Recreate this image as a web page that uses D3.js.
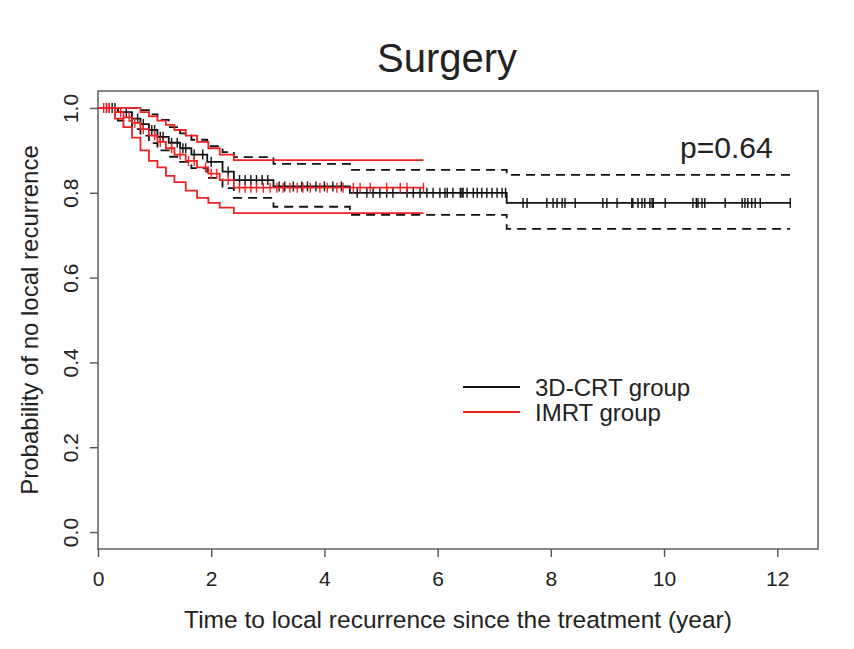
<!DOCTYPE html>
<html>
  <head>
    <meta charset="utf-8" />
    <title>Surgery</title>
    <script src="https://d3js.org/d3.v7.min.js"></script>
    <style>
      body { margin: 0; background: #fff; }
      text { font-family: "Liberation Sans", Arial, sans-serif; fill: #222; }
    </style>
  </head>
  <body>
    <svg width="854" height="649" id="km"></svg>

    <script>
      // 3D-CRT group: step times and survival / CI at each step
      var crtTime  = [0, 0.35, 0.6, 0.75, 0.9, 1.05, 1.25, 1.45, 1.65, 1.93, 2.2, 2.4, 3.1, 4.45, 7.22];
      var crtSurv  = [1.0, 0.99, 0.975, 0.962, 0.948, 0.932, 0.918, 0.905, 0.89, 0.873, 0.85, 0.83, 0.815, 0.80, 0.776];
      var crtUpper = [1.0, 1.0, 1.0, 0.995, 0.985, 0.972, 0.955, 0.94, 0.925, 0.91, 0.896, 0.884, 0.868, 0.854, 0.842];
      var crtLower = [1.0, 0.97, 0.95, 0.935, 0.917, 0.9, 0.885, 0.873, 0.858, 0.835, 0.811, 0.788, 0.767, 0.748, 0.715];
      var crtEnd = 12.23;
      var crtCensor = [0.15, 0.2, 0.25, 0.3, 0.5, 0.7, 0.8, 0.95, 1.0, 1.1, 1.15, 1.3, 1.4, 1.5, 1.55, 1.7, 1.85,
        2.0, 2.3, 2.5, 2.6, 2.7, 2.8, 2.9, 3.0, 3.2, 3.3, 3.45, 3.6, 3.7, 3.85, 4.0, 4.15, 4.3,
        4.58, 4.75, 4.86, 4.98, 5.1, 5.21, 5.46, 5.57, 5.69, 5.81, 5.92, 6.04, 6.13, 6.17, 6.27, 6.4,
        6.43, 6.45, 6.52, 6.63, 6.7, 6.78, 6.87, 6.96, 7.05, 7.14, 7.2, 7.51, 7.58, 7.93, 8.04, 8.11,
        8.2, 8.25, 8.43, 8.92, 8.99, 9.17, 9.43, 9.45, 9.54, 9.61, 9.66, 9.75, 9.79, 9.81, 10.02,
        10.51, 10.57, 10.6, 10.67, 10.72, 11.08, 11.38, 11.43, 11.48, 11.55, 11.61, 11.7, 12.23];

      // IMRT group
      var imrtTime  = [0, 0.3, 0.45, 0.6, 0.75, 0.9, 1.05, 1.2, 1.35, 1.55, 1.75, 1.95, 2.15, 2.4];
      var imrtSurv  = [1.0, 0.99, 0.978, 0.965, 0.95, 0.935, 0.92, 0.905, 0.89, 0.875, 0.86, 0.845, 0.83, 0.812];
      var imrtUpper = [1.0, 1.0, 1.0, 1.0, 0.99, 0.98, 0.97, 0.96, 0.948, 0.935, 0.92, 0.905, 0.89, 0.877];
      var imrtLower = [1.0, 0.975, 0.955, 0.93, 0.9, 0.875, 0.86, 0.84, 0.825, 0.805, 0.788, 0.776, 0.765, 0.752];
      var imrtEnd = 5.75;
      var imrtCensor = [0.1, 0.15, 0.2, 0.3, 0.4, 0.55, 0.65, 0.8, 1.0, 1.1, 1.3, 1.45, 1.6, 1.7, 1.9, 2.0,
        2.1, 2.3, 2.5, 2.6, 2.7, 2.8, 2.92, 3.04, 3.16, 3.27, 3.39, 3.52, 3.62, 3.75, 3.92, 4.05,
        4.22, 4.33, 4.51, 4.63, 4.81, 5.1, 5.34, 5.46, 5.75];

      var xTicks = [0, 2, 4, 6, 8, 10, 12];
      var yTicks = [0, 0.2, 0.4, 0.6, 0.8, 1.0];
      var groupNames = ["3D-CRT group", "IMRT group"];
      var groupColors = ["#111", "#ee2222"];

      var svg = d3.select("#km");

      var x = d3.scaleLinear().domain([0, 12.72]).range([98, 818]);
      var y = d3.scaleLinear().domain([-0.04, 1.04]).range([549, 91]);

      // plot box
      svg.append("rect")
        .attr("x", 98).attr("y", 91)
        .attr("width", 720).attr("height", 458)
        .attr("fill", "none").attr("stroke", "#555").attr("stroke-width", 1.4);

      // x axis
      var xAxis = svg.append("g")
        .attr("transform", "translate(0,549)")
        .call(d3.axisBottom(x).tickValues(xTicks).tickSize(8).tickPadding(14).tickFormat(d3.format("d")));
      xAxis.select(".domain").remove();
      xAxis.selectAll("line").attr("stroke", "#555").attr("stroke-width", 1.4);
      xAxis.selectAll("text").style("font-size", "21px").style("font-family", "Liberation Sans, Arial, sans-serif").attr("fill", "#222");

      // y axis, labels rotated like R
      var yAxis = svg.append("g")
        .attr("transform", "translate(98,0)")
        .call(d3.axisLeft(y).tickValues(yTicks).tickSize(8).tickFormat(d3.format(".1f")));
      yAxis.select(".domain").remove();
      yAxis.selectAll("line").attr("stroke", "#555").attr("stroke-width", 1.4);
      yAxis.selectAll("text")
        .attr("transform", "rotate(-90)")
        .attr("x", 0).attr("y", -20).attr("dy", 0)
        .style("text-anchor", "middle")
        .style("font-size", "21px").style("font-family", "Liberation Sans, Arial, sans-serif").attr("fill", "#222");

      // titles
      svg.append("text").attr("x", 447).attr("y", 72).attr("text-anchor", "middle")
        .style("font-size", "40px").text("Surgery");
      svg.append("text").attr("x", 458).attr("y", 628).attr("text-anchor", "middle")
        .style("font-size", "24.5px").text("Time to local recurrence since the treatment (year)");
      svg.append("text").attr("transform", "translate(38,320) rotate(-90)").attr("text-anchor", "middle")
        .style("font-size", "24px").text("Probability of no local recurrence");
      svg.append("text").attr("x", 680).attr("y", 158)
        .style("font-size", "30px").text("p=0.64");

      // step path helper
      function stepPoints(times, vals, end) {
        var pts = times.map(function(t, i) { return [t, vals[i]]; });
        pts.push([end, vals[vals.length - 1]]);
        return pts;
      }
      var line = d3.line()
        .x(function(d) { return x(d[0]); })
        .y(function(d) { return y(d[1]); })
        .curve(d3.curveStepAfter);

      function drawGroup(times, surv, upper, lower, end, censor, color, ciDash) {
        var g = svg.append("g");
        [upper, lower].forEach(function(ci) {
          g.append("path")
            .attr("d", line(stepPoints(times, ci, end)))
            .attr("fill", "none").attr("stroke", color).attr("stroke-width", 1.8)
            .attr("stroke-dasharray", ciDash);
        });
        g.append("path")
          .attr("d", line(stepPoints(times, surv, end)))
          .attr("fill", "none").attr("stroke", color).attr("stroke-width", 1.8);

        // censor marks
        var bis = d3.bisector(function(d) { return d; }).right;
        g.selectAll(".cens").data(censor).enter().append("line")
          .attr("x1", function(d) { return x(d); })
          .attr("x2", function(d) { return x(d); })
          .attr("y1", function(d) { return y(surv[bis(times, d) - 1]) - 5; })
          .attr("y2", function(d) { return y(surv[bis(times, d) - 1]) + 5; })
          .attr("stroke", color).attr("stroke-width", 1.4);
      }

      drawGroup(crtTime, crtSurv, crtUpper, crtLower, crtEnd, crtCensor, groupColors[0], "9,6");
      drawGroup(imrtTime, imrtSurv, imrtUpper, imrtLower, imrtEnd, imrtCensor, groupColors[1], null);

      // legend
      var legend = svg.append("g");
      groupNames.forEach(function(name, i) {
        var ly = 387 + i * 25;
        legend.append("line").attr("x1", 463).attr("x2", 520).attr("y1", ly).attr("y2", ly)
          .attr("stroke", groupColors[i]).attr("stroke-width", 1.8);
        legend.append("text").attr("x", 535).attr("y", ly + 9)
          .style("font-size", "24px").text(name);
      });
    </script>
  </body>
</html>
